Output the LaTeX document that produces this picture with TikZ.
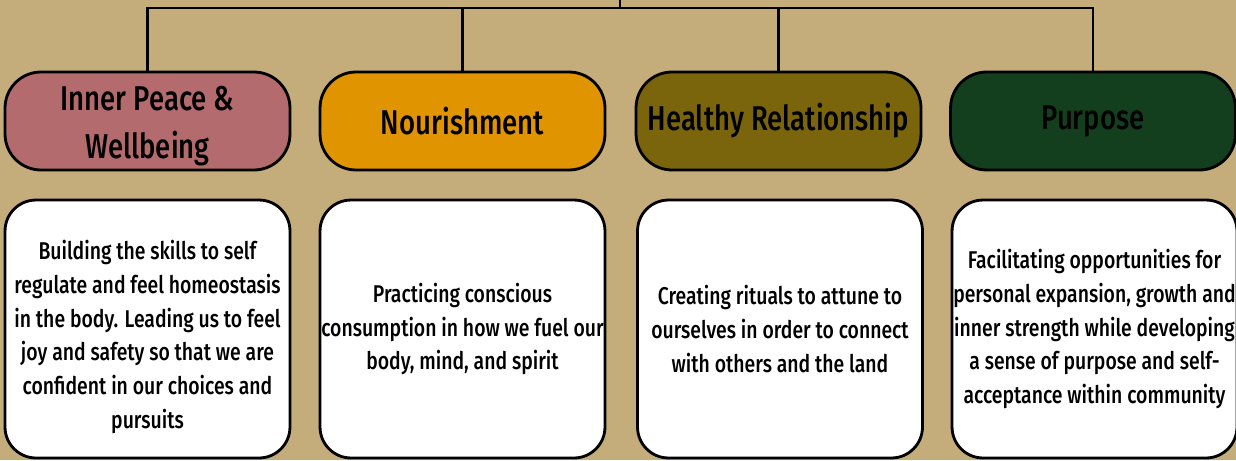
\documentclass[tikz,border=0pt]{standalone}
\usepackage{fontspec}
\setmainfont{Fira Sans}[UprightFont=* Medium,FakeStretch=0.8]
\definecolor{tan}{HTML}{C4AC7B}
\definecolor{rose}{HTML}{B36B6E}
\definecolor{amber}{HTML}{E09400}
\definecolor{olive}{HTML}{7A650D}
\definecolor{forest}{HTML}{143F1E}
\tikzset{
  head/.style={draw=black,line width=1.6pt,rounded corners=0.72cm,minimum width=5.7cm,minimum height=1.96cm,inner xsep=0pt,align=center,font=\fontsize{19.6}{27.5}\selectfont},
  body/.style={draw=black,fill=white,line width=1.6pt,rounded corners=0.62cm,minimum width=5.7cm,minimum height=5.16cm,inner xsep=0pt,align=center,font=\fontsize{13.8}{19.3}\selectfont},
  link/.style={draw=black,line width=1.6pt}
}
\begin{document}
\begin{tikzpicture}[x=0.02cm,y=-0.02cm]
\useasboundingbox (0,0) rectangle (1236,460) ;
\fill [tan] (0,0) rectangle (1236,460) ;
% headers
\node [head,fill=rose] (inner) at (147.5,121) {} ;
\node at (147.5,126) [align=center,font=\fontsize{19.6}{27.5}\selectfont] (innerhead) {Inner Peace \&\\Wellbeing} ;
\node [head,fill=amber] (nourish) at (462.5,121) {Nourishment} ;
\node [head,fill=olive] (relation) at (778.5,121) {Healthy Relationship} ;
\node [head,fill=forest] (purpose) at (1093,121) {Purpose} ;
% descriptions
\node [body] (innertext) at (147.5,329) {} ;
\node at (147.5,337) [align=center,font=\fontsize{13.8}{19.3}\selectfont] (innerlines) {Building the skills to self\\regulate and feel homeostasis\\in the body. Leading us to feel\\joy and safety so that we are\\confident in our choices and\\pursuits} ;
\node [body] (nourishtext) at (462.5,329) {Practicing conscious\\consumption in how we fuel our\\body, mind, and spirit} ;
\node [body] (relationtext) at (780,329) {Creating rituals to attune to\\ourselves in order to connect\\with others and the land} ;
\node [body] (purposetext) at (1094.5,329) {Facilitating opportunities for\\personal expansion, growth and\\inner strength while developing\\a sense of purpose and self-\\acceptance within community} ;
% tree lines
\coordinate (root) at (620,0) ;
\coordinate (bar) at (620,8) ;
\draw [link] (root) -- (bar) ;
\draw [link] (inner.north) |- (bar) -| (purpose.north) ;
\draw [link] (nourish.north) -- (nourish.north |- bar) ;
\draw [link] (relation.north) -- (relation.north |- bar) ;
\end{tikzpicture}
\end{document}
